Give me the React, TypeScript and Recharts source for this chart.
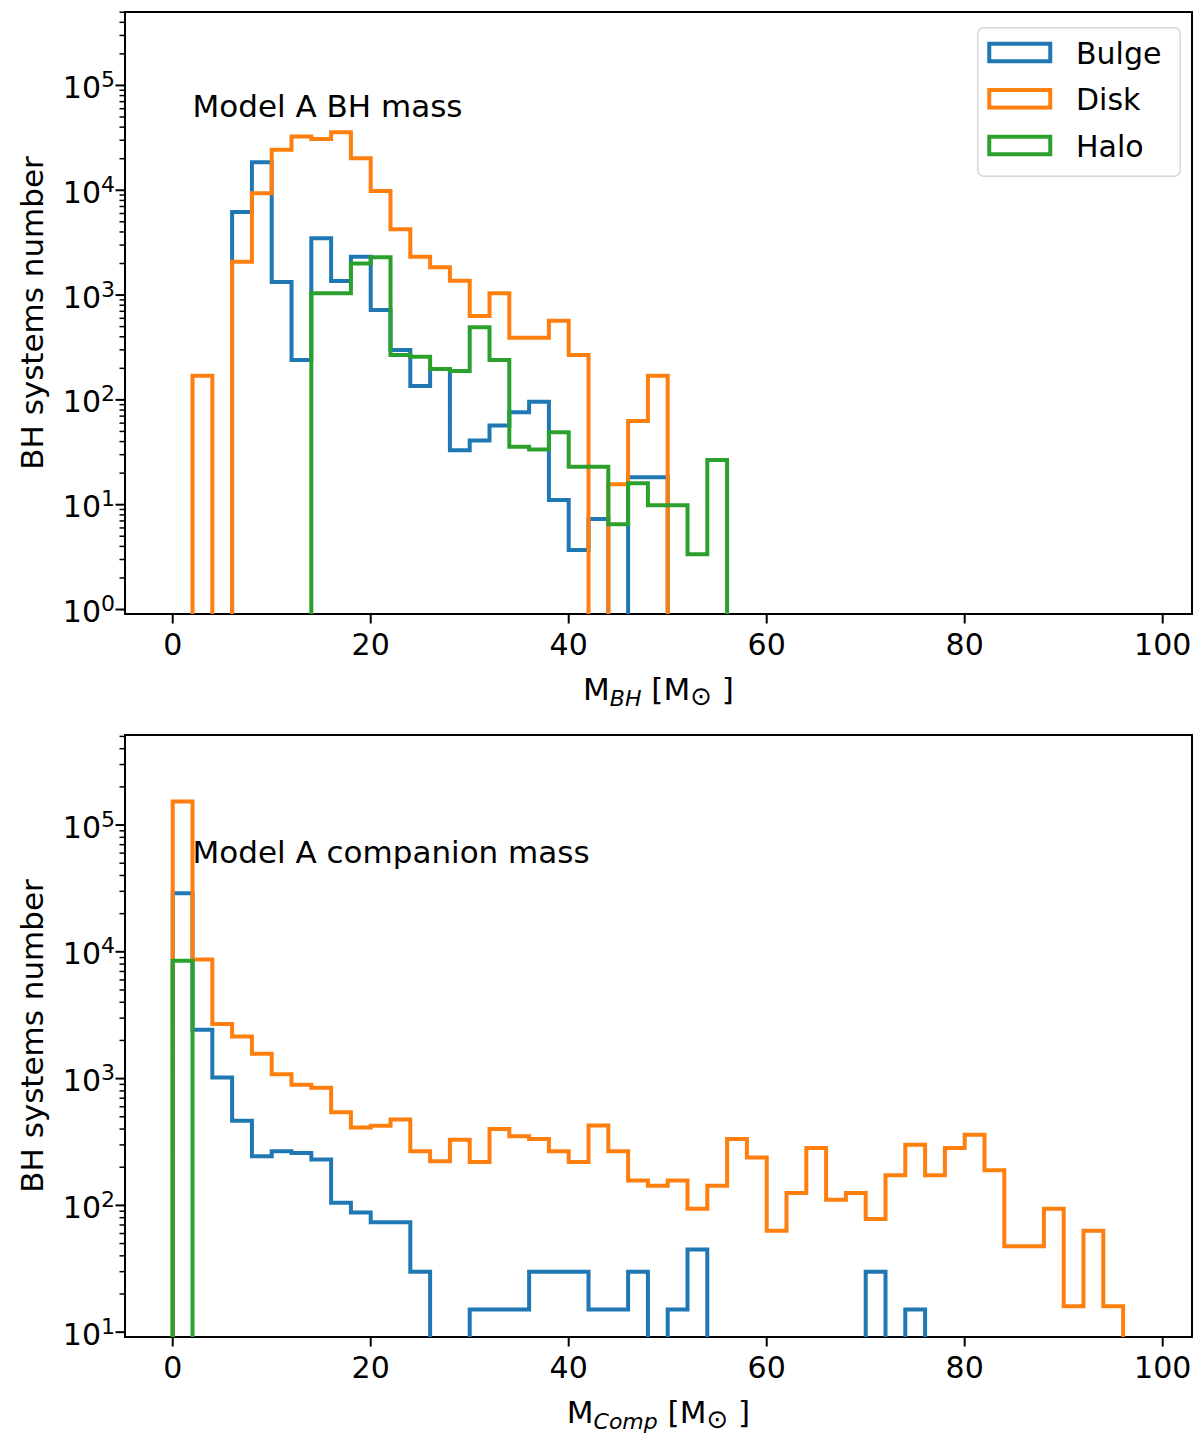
import React from "react";
import { Line, LineChart, ReferenceArea, ReferenceDot, XAxis, YAxis } from "recharts";

// Step histograms of BH systems (Model A), two stacked log-y panels.

const FONT = "'DejaVu Sans', sans-serif";
const BLUE = "#1f77b4";
const ORANGE = "#ff7f0e";
const GREEN = "#2ca02c";

// Bin edges, 2 Msun wide.
const BIN_EDGES = [
  0, 2, 4, 6, 8, 10, 12, 14, 16, 18, 20, 22, 24, 26, 28, 30, 32, 34, 36, 38, 40, 42, 44, 46, 48, 50,
  52, 54, 56, 58, 60, 62, 64, 66, 68, 70, 72, 74, 76, 78, 80, 82, 84, 86, 88, 90, 92, 94, 96, 98, 100,
];

// Top panel: BH mass, counts per bin.
const BH_BULGE = [
  0, 0, 0, 6200, 18500, 1330, 240, 3490, 1360, 2320, 721, 299, 136, 197, 33, 41, 57, 76, 96, 11.1,
  3.7, 7.3, 0, 18.3, 18.3, 0, 0, 0, 0, 0, 0, 0, 0, 0, 0, 0, 0, 0, 0, 0, 0, 0, 0, 0, 0, 0, 0, 0, 0, 0,
];
const BH_DISK = [
  0, 170, 0, 2080, 9360, 24300, 32500, 30900, 35700, 20200, 9850, 4250, 2320, 1840, 1370, 632, 1040,
  392, 392, 570, 268, 0, 15.7, 63, 170, 0, 0, 0, 0, 0, 0, 0, 0, 0, 0, 0, 0, 0, 0, 0, 0, 0, 0, 0, 0, 0,
  0, 0, 0, 0,
];
const BH_HALO = [
  0, 0, 0, 0, 0, 0, 0, 1040, 1040, 2000, 2290, 268, 258, 197, 189, 493, 240, 35.8, 33.7, 49, 23, 23,
  6.5, 16, 9.9, 9.9, 3.37, 26.7, 0, 0, 0, 0, 0, 0, 0, 0, 0, 0, 0, 0, 0, 0, 0, 0, 0, 0, 0, 0, 0, 0,
];

// Bottom panel: companion mass.
const COMP_BULGE = [
  29000, 2430, 1020, 466, 244, 267, 259, 230, 105, 88, 73.6, 73.6, 29.9, 0, 0, 15.1, 15.1, 15.1, 29.9,
  29.9, 29.9, 15.1, 15.1, 29.9, 0, 15.1, 44.9, 0, 0, 0, 0, 0, 0, 0, 0, 29.9, 0, 15.1, 0, 0, 0, 0, 0, 0,
  0, 0, 0, 0, 0, 0,
];
const COMP_DISK = [
  153000, 8700, 2690, 2150, 1570, 1080, 895, 848, 542, 412, 425, 475, 267, 223, 330, 220, 401, 351, 334,
  267, 220, 426, 267, 157, 143, 157, 94, 143, 334, 239, 63, 125, 284, 111, 125, 78, 173, 301, 173, 284,
  361, 189, 47.6, 47.6, 94, 16, 63, 16, 0, 0,
];
const COMP_HALO = [
  8500, 0, 0, 0, 0, 0, 0, 0, 0, 0, 0, 0, 0, 0, 0, 0, 0, 0, 0, 0, 0, 0, 0, 0, 0, 0, 0, 0, 0, 0, 0, 0, 0,
  0, 0, 0, 0, 0, 0, 0, 0, 0, 0, 0, 0, 0, 0, 0, 0, 0,
];

const X_TICKS = [0, 20, 40, 60, 80, 100];
const BH_Y_MAJOR = [1, 10, 100, 1000, 10000, 100000];
const COMP_Y_MAJOR = [10, 100, 1000, 10000, 100000];

const SERIES = [
  { key: "bulge", label: "Bulge", color: BLUE },
  { key: "disk", label: "Disk", color: ORANGE },
  { key: "halo", label: "Halo", color: GREEN },
];

const X_DOMAIN: [number, number] = [-4.82, 102.96];
const BH_Y_DOMAIN: [number, number] = [0.906, 502000];
const COMP_Y_DOMAIN: [number, number] = [9.16, 513000];

const PLOT_LEFT = 125;
// log axis cannot hold 0, so empty bins sit far below the frame and get clipped
const EMPTY = 1e-3;

function stepRows(bulge: number[], disk: number[], halo: number[]) {
  const v = (a: number[], i: number) => (a[i] > 0 ? a[i] : EMPTY);
  const rows = [{ x: BIN_EDGES[0], bulge: EMPTY, disk: EMPTY, halo: EMPTY }];
  for (let i = 0; i < BIN_EDGES.length - 1; i++) {
    rows.push({ x: BIN_EDGES[i], bulge: v(bulge, i), disk: v(disk, i), halo: v(halo, i) });
  }
  rows.push({ x: BIN_EDGES[BIN_EDGES.length - 1], bulge: EMPTY, disk: EMPTY, halo: EMPTY });
  return rows;
}

function logTicks(majors: number[], [lo, hi]: [number, number]) {
  const out: number[] = [];
  majors.forEach((m) => {
    for (let k = 1; k < 10; k++) {
      const t = m * k;
      if (t >= lo && t <= hi) out.push(t);
    }
  });
  return out;
}

function YTick(props: any) {
  const { y, payload } = props;
  const exp = Math.log10(payload.value);
  const major = Math.abs(exp - Math.round(exp)) < 1e-6;
  if (!major) {
    return <line x1={PLOT_LEFT - 5.5} x2={PLOT_LEFT} y1={y} y2={y} stroke="#000" strokeWidth={1.5} />;
  }
  return (
    <g>
      <line x1={PLOT_LEFT - 9.5} x2={PLOT_LEFT} y1={y} y2={y} stroke="#000" strokeWidth={2} />
      <text x={PLOT_LEFT - 10} y={y + 12.5} textAnchor="end" fontSize={30} fontFamily={FONT} fill="#000">
        <tspan>10</tspan>
        <tspan fontSize={22} dy={-11}>
          {Math.round(exp)}
        </tspan>
      </text>
    </g>
  );
}

function XTick(props: any) {
  const { x, payload, plotBottom } = props;
  return (
    <g>
      <line x1={x} x2={x} y1={plotBottom} y2={plotBottom + 9.5} stroke="#000" strokeWidth={2} />
      <text x={x} y={plotBottom + 41} textAnchor="middle" fontSize={30} fontFamily={FONT} fill="#000">
        {payload.value}
      </text>
    </g>
  );
}

function XLabel(props: any) {
  const { viewBox, sub } = props;
  const cx = viewBox.x + viewBox.width / 2;
  return (
    <text x={cx} y={viewBox.y + 86} textAnchor="middle" fontSize={31} fontFamily={FONT} fill="#000" style={{ whiteSpace: "pre" }}>
      <tspan>M</tspan>
      <tspan fontSize={22} fontStyle="italic" dy={6}>
        {sub}
      </tspan>
      <tspan dy={-6}>{" [M"}</tspan>
      <tspan fontSize={26} dy={5}>
        ⊙
      </tspan>
      <tspan dy={-5}>{" ]"}</tspan>
    </text>
  );
}

function YLabel(props: any) {
  const { viewBox } = props;
  const cy = viewBox.y + viewBox.height / 2;
  return (
    <text x={43} y={cy} transform={`rotate(-90, 43, ${cy})`} textAnchor="middle" fontSize={31} fontFamily={FONT} fill="#000">
      BH systems number
    </text>
  );
}

function Annot(props: any) {
  const { viewBox, text } = props;
  return (
    <text x={viewBox.x} y={viewBox.y} fontSize={31} fontFamily={FONT} fill="#000">
      {text}
    </text>
  );
}

function HistPanel({
  bulge,
  disk,
  halo,
  yDomain,
  yMajor,
  title,
  sub,
  height,
  top,
  bottom,
}: {
  bulge: number[];
  disk: number[];
  halo: number[];
  yDomain: [number, number];
  yMajor: number[];
  title: string;
  sub: string;
  height: number;
  top: number;
  bottom: number;
}) {
  const data = stepRows(bulge, disk, halo);
  const plotBottom = height - bottom - 60;
  return (
    <LineChart width={1200} height={height} data={data} margin={{ top, right: 8, bottom, left: 25 }}>
      <XAxis
        dataKey="x"
        type="number"
        domain={X_DOMAIN}
        allowDataOverflow
        ticks={X_TICKS}
        interval={0}
        height={60}
        axisLine={false}
        tickLine={false}
        tickSize={0}
        tickMargin={0}
        tick={(p: any) => <XTick {...p} plotBottom={plotBottom} />}
        label={<XLabel sub={sub} />}
      />
      <YAxis
        type="number"
        scale="log"
        domain={yDomain}
        allowDataOverflow
        ticks={logTicks(yMajor, yDomain)}
        interval={0}
        width={100}
        axisLine={false}
        tickLine={false}
        tickSize={0}
        tickMargin={0}
        tick={(p: any) => <YTick {...p} />}
        label={<YLabel />}
      />
      {SERIES.map((s) => (
        <Line
          key={s.key}
          dataKey={s.key}
          name={s.label}
          type="stepAfter"
          stroke={s.color}
          strokeWidth={4}
          strokeLinejoin="miter"
          dot={false}
          activeDot={false}
          isAnimationActive={false}
        />
      ))}
      <ReferenceDot x={2} y={50000} r={0} fill="none" stroke="none" label={<Annot text={title} />} />
      <ReferenceArea
        x1={X_DOMAIN[0]}
        x2={X_DOMAIN[1]}
        y1={yDomain[0]}
        y2={yDomain[1]}
        fill="none"
        stroke="#000"
        strokeWidth={2}
        ifOverflow="visible"
      />
    </LineChart>
  );
}

function LegendBox() {
  const rows = [25.5, 71.8, 118.5];
  return (
    <svg width={204} height={150} style={{ position: "absolute", left: 977, top: 27 }}>
      <rect x={0.75} y={0.75} width={202.5} height={148.5} rx={6} fill="#fff" fillOpacity={0.8} stroke="#d6d6d6" strokeWidth={1.5} />
      {SERIES.map((s, i) => (
        <g key={s.key}>
          <rect x={12.25} y={rows[i] - 10.75 + 2} width={61} height={17.5} fill="none" stroke={s.color} strokeWidth={4} />
          <text x={99} y={rows[i] + 11} fontSize={30} fontFamily={FONT} fill="#000">
            {s.label}
          </text>
        </g>
      ))}
    </svg>
  );
}

export default function App() {
  return (
    <div style={{ position: "absolute", left: 0, top: 0, width: 1200, height: 1442, background: "#fff" }}>
      <div style={{ position: "absolute", left: 0, top: 0 }}>
        <HistPanel
          bulge={BH_BULGE}
          disk={BH_DISK}
          halo={BH_HALO}
          yDomain={BH_Y_DOMAIN}
          yMajor={BH_Y_MAJOR}
          title="Model A BH mass"
          sub="BH"
          height={720}
          top={12}
          bottom={46}
        />
      </div>
      <LegendBox />
      <div style={{ position: "absolute", left: 0, top: 720 }}>
        <HistPanel
          bulge={COMP_BULGE}
          disk={COMP_DISK}
          halo={COMP_HALO}
          yDomain={COMP_Y_DOMAIN}
          yMajor={COMP_Y_MAJOR}
          title="Model A companion mass"
          sub="Comp"
          height={722}
          top={15}
          bottom={45}
        />
      </div>
    </div>
  );
}
